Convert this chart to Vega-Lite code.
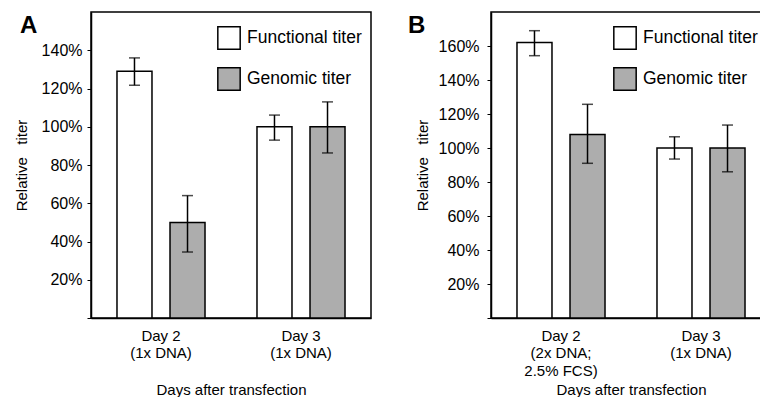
{
  "$schema": "https://vega.github.io/schema/vega-lite/v6.json",
  "background": "white",
  "padding": {"left": 13, "top": 11, "right": 0, "bottom": 0},
  "config": {
    "font": "Liberation Sans",
    "view": {"stroke": "black", "strokeWidth": 1.5},
    "axis": {"domainColor": "black", "domainWidth": 1.5, "tickColor": "black", "tickWidth": 1, "labelColor": "black", "titleColor": "black", "grid": false, "labelFont": "Liberation Sans", "titleFont": "Liberation Sans", "titleFontWeight": "normal", "labelOverlap": false},
    "legend": {"labelFont": "Liberation Sans", "labelColor": "black"},
    "title": {"font": "Liberation Sans", "color": "black"}
  },
  "datasets": {
    "A": [
      {"day": "Day 2|(1x DNA)", "type": "Functional titer", "value": 1.29, "lo": 1.217, "hi": 1.36},
      {"day": "Day 2|(1x DNA)", "type": "Genomic titer", "value": 0.5, "lo": 0.345, "hi": 0.64},
      {"day": "Day 3|(1x DNA)", "type": "Functional titer", "value": 1.0, "lo": 0.93, "hi": 1.061},
      {"day": "Day 3|(1x DNA)", "type": "Genomic titer", "value": 1.0, "lo": 0.863, "hi": 1.13}
    ],
    "B": [
      {"day": "Day 2|(2x DNA;|2.5% FCS)", "type": "Functional titer", "value": 1.62, "lo": 1.543, "hi": 1.69},
      {"day": "Day 2|(2x DNA;|2.5% FCS)", "type": "Genomic titer", "value": 1.08, "lo": 0.91, "hi": 1.257},
      {"day": "Day 3|(1x DNA)", "type": "Functional titer", "value": 1.0, "lo": 0.935, "hi": 1.066},
      {"day": "Day 3|(1x DNA)", "type": "Genomic titer", "value": 1.0, "lo": 0.86, "hi": 1.135}
    ]
  },
  "spacing": 35,
  "resolve": {"scale": {"color": "independent", "y": "independent", "x": "independent", "xOffset": "independent"}, "legend": {"color": "independent"}},
  "hconcat": [
    {
      "width": 280,
      "height": 306,
      "title": {"text": "A", "anchor": "start", "frame": "bounds", "fontSize": 24, "fontWeight": "bold", "offset": -26, "baseline": "top", "dx": 6},
      "data": {"name": "A"},
      "encoding": {
        "x": {"field": "day", "type": "nominal", "sort": null, "scale": {"paddingInner": 0, "paddingOuter": 0},
          "axis": {"title": "Days after transfection", "labelAngle": 0, "labelExpr": "split(datum.label, '|')", "ticks": false, "labelFontSize": 15, "labelPadding": 10, "labelLineHeight": 17.5, "titleFontSize": 15, "titleY": 64}},
        "xOffset": {"field": "type", "type": "nominal", "sort": null, "scale": {"paddingInner": 0.34, "paddingOuter": 0.49}}
      },
      "layer": [
        {
          "mark": {"type": "bar", "stroke": "black", "strokeWidth": 1.5},
          "encoding": {
            "y": {"field": "value", "type": "quantitative", "title": "Relative\u00a0\u00a0 titer", "scale": {"domain": [0, 1.6], "nice": false},
              "axis": {"format": ".0%", "values": [0, 0.2, 0.4, 0.6, 0.8, 1.0, 1.2, 1.4], "labelExpr": "datum.value == 0 ? '' : datum.label", "labelOverlap": false, "tickSize": 4, "labelPadding": 5, "labelFontSize": 16, "titleFontSize": 15, "titlePadding": 12}},
            "color": {"field": "type", "type": "nominal", "scale": {"domain": ["Functional titer", "Genomic titer"], "range": ["white", "#adadad"]},
              "legend": {"title": null, "orient": "none", "legendX": 126, "legendY": 14, "symbolType": "square", "symbolSize": 500, "symbolStrokeColor": "black", "symbolStrokeWidth": 1.5, "symbolOpacity": 1, "labelFontSize": 17.5, "labelOffset": 6, "rowPadding": 11, "padding": 0}}
          }
        },
        {
          "mark": {"type": "rule", "strokeWidth": 1.5, "color": "black"},
          "encoding": {"y": {"field": "lo", "type": "quantitative", "title": "Relative\u00a0\u00a0 titer",
              "axis": {"format": ".0%", "values": [0, 0.2, 0.4, 0.6, 0.8, 1.0, 1.2, 1.4], "labelExpr": "datum.value == 0 ? '' : datum.label", "labelOverlap": false, "tickSize": 4, "labelPadding": 5, "labelFontSize": 16, "titleFontSize": 15, "titlePadding": 12}}, "y2": {"field": "hi"}}
        },
        {
          "mark": {"type": "tick", "thickness": 1.5, "size": 11, "color": "black"},
          "encoding": {"y": {"field": "lo", "type": "quantitative", "title": "Relative\u00a0\u00a0 titer",
              "axis": {"format": ".0%", "values": [0, 0.2, 0.4, 0.6, 0.8, 1.0, 1.2, 1.4], "labelExpr": "datum.value == 0 ? '' : datum.label", "labelOverlap": false, "tickSize": 4, "labelPadding": 5, "labelFontSize": 16, "titleFontSize": 15, "titlePadding": 12}}}
        },
        {
          "mark": {"type": "tick", "thickness": 1.5, "size": 11, "color": "black"},
          "encoding": {"y": {"field": "hi", "type": "quantitative", "title": "Relative\u00a0\u00a0 titer",
              "axis": {"format": ".0%", "values": [0, 0.2, 0.4, 0.6, 0.8, 1.0, 1.2, 1.4], "labelExpr": "datum.value == 0 ? '' : datum.label", "labelOverlap": false, "tickSize": 4, "labelPadding": 5, "labelFontSize": 16, "titleFontSize": 15, "titlePadding": 12}}}
        }
      ]
    },
    {
      "width": 280,
      "height": 306,
      "title": {"text": "B", "anchor": "start", "frame": "bounds", "fontSize": 24, "fontWeight": "bold", "offset": -26, "baseline": "top", "dx": -7},
      "data": {"name": "B"},
      "encoding": {
        "x": {"field": "day", "type": "nominal", "sort": null, "scale": {"paddingInner": 0, "paddingOuter": 0},
          "axis": {"title": "Days after transfection", "labelAngle": 0, "labelExpr": "split(datum.label, '|')", "ticks": false, "labelFontSize": 15, "labelPadding": 10, "labelLineHeight": 17.5, "titleFontSize": 15, "titleY": 64}},
        "xOffset": {"field": "type", "type": "nominal", "sort": null, "scale": {"paddingInner": 0.34, "paddingOuter": 0.49}}
      },
      "layer": [
        {
          "mark": {"type": "bar", "stroke": "black", "strokeWidth": 1.5},
          "encoding": {
            "y": {"field": "value", "type": "quantitative", "title": "Relative\u00a0\u00a0 titer", "scale": {"domain": [0, 1.8], "nice": false},
              "axis": {"format": ".0%", "values": [0, 0.2, 0.4, 0.6, 0.8, 1.0, 1.2, 1.4, 1.6], "labelExpr": "datum.value == 0 ? '' : datum.label", "labelOverlap": false, "tickSize": 4, "labelPadding": 8, "labelFontSize": 16, "titleFontSize": 15, "titlePadding": 8}},
            "color": {"field": "type", "type": "nominal", "scale": {"domain": ["Functional titer", "Genomic titer"], "range": ["white", "#adadad"]},
              "legend": {"title": null, "orient": "none", "legendX": 122, "legendY": 14, "symbolType": "square", "symbolSize": 500, "symbolStrokeColor": "black", "symbolStrokeWidth": 1.5, "symbolOpacity": 1, "labelFontSize": 17.5, "labelOffset": 6, "rowPadding": 11, "padding": 0}}
          }
        },
        {
          "mark": {"type": "rule", "strokeWidth": 1.5, "color": "black"},
          "encoding": {"y": {"field": "lo", "type": "quantitative", "title": "Relative\u00a0\u00a0 titer",
              "axis": {"format": ".0%", "values": [0, 0.2, 0.4, 0.6, 0.8, 1.0, 1.2, 1.4, 1.6], "labelExpr": "datum.value == 0 ? '' : datum.label", "labelOverlap": false, "tickSize": 4, "labelPadding": 8, "labelFontSize": 16, "titleFontSize": 15, "titlePadding": 8}}, "y2": {"field": "hi"}}
        },
        {
          "mark": {"type": "tick", "thickness": 1.5, "size": 11, "color": "black"},
          "encoding": {"y": {"field": "lo", "type": "quantitative", "title": "Relative\u00a0\u00a0 titer",
              "axis": {"format": ".0%", "values": [0, 0.2, 0.4, 0.6, 0.8, 1.0, 1.2, 1.4, 1.6], "labelExpr": "datum.value == 0 ? '' : datum.label", "labelOverlap": false, "tickSize": 4, "labelPadding": 8, "labelFontSize": 16, "titleFontSize": 15, "titlePadding": 8}}}
        },
        {
          "mark": {"type": "tick", "thickness": 1.5, "size": 11, "color": "black"},
          "encoding": {"y": {"field": "hi", "type": "quantitative", "title": "Relative\u00a0\u00a0 titer",
              "axis": {"format": ".0%", "values": [0, 0.2, 0.4, 0.6, 0.8, 1.0, 1.2, 1.4, 1.6], "labelExpr": "datum.value == 0 ? '' : datum.label", "labelOverlap": false, "tickSize": 4, "labelPadding": 8, "labelFontSize": 16, "titleFontSize": 15, "titlePadding": 8}}}
        }
      ]
    }
  ]
}
